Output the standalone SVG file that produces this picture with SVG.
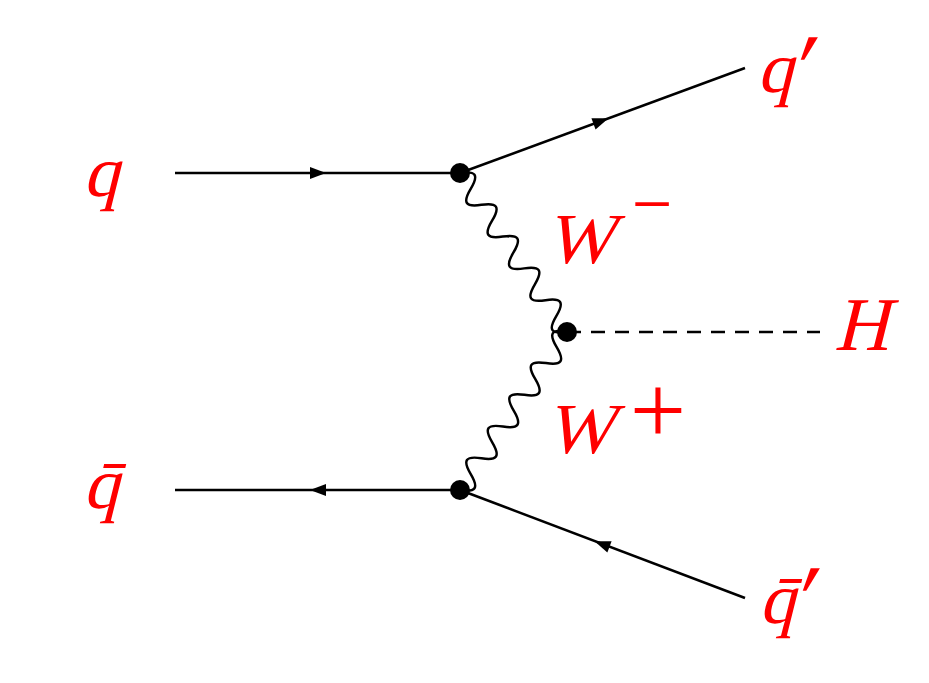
<svg xmlns="http://www.w3.org/2000/svg" width="929" height="683" viewBox="0 0 929 683">
<style>
.ln{stroke:#000;stroke-width:2.5;fill:none}
.wv{stroke:#000;stroke-width:2.5;fill:none}
.ar{fill:#000}
.vx{fill:#000}
.lb{font-family:"Liberation Serif","DejaVu Serif",serif;font-style:normal;font-size:72px;fill:#ff0000}
</style>
<rect width="929" height="683" fill="#fff"/>
<defs>
<path id="wave" d="M0,0 c6.9,-14.7 12.26,-14.7 19.16,0 c6.9,14.7 12.26,14.7 19.16,0 c6.9,-14.7 12.26,-14.7 19.16,0 c6.9,14.7 12.26,14.7 19.16,0 c6.9,-14.7 12.26,-14.7 19.16,0 c6.9,14.7 12.26,14.7 19.16,0 c6.9,-14.7 12.26,-14.7 19.16,0 c6.9,14.7 12.26,14.7 19.16,0 c6.9,-14.7 12.26,-14.7 19.16,0 c6.9,14.7 12.26,14.7 19.16,0"/>
</defs>
<g id="connectors">
<line class="ln" x1="175" y1="173" x2="460" y2="173"/>
<polygon class="ar" points="326,173 310,167 310,179"/>
<line class="ln" x1="175" y1="490" x2="460" y2="490"/>
<polygon class="ar" points="310,490 326,484 326,496"/>
<line class="ln" x1="460" y1="173" x2="745" y2="68"/>
<polygon class="ar" points="8,0 -8,-6 -8,6" transform="translate(601,121) rotate(-20.2)"/>
<line class="ln" x1="460" y1="490" x2="745" y2="598"/>
<polygon class="ar" points="-8,0 8,-6 8,6" transform="translate(602,544) rotate(20.75)"/>
<line class="ln" x1="567" y1="332" x2="820" y2="332" stroke-dasharray="14 10"/>
<use href="#wave" class="wv" transform="translate(460,173) rotate(56.06)"/>
<use href="#wave" class="wv" transform="translate(460,490) rotate(-55.9) scale(1,-1)"/>
</g>
<g id="v1"><circle class="vx" cx="460" cy="173" r="10"/></g>
<g id="v2"><circle class="vx" cx="460" cy="490" r="10"/></g>
<g id="v3"><circle class="vx" cx="567" cy="332" r="10"/></g>
<g id="q"><text class="lb" transform="translate(83,196) skewX(-14)">q</text></g>
<g id="qbar"><text class="lb" transform="translate(83,508) skewX(-14)">q̄</text></g>
<g id="qprime"><text class="lb" transform="translate(757,92) skewX(-14)">q<tspan style="font-size:96px" dx="-5" dy="8">′</tspan></text></g>
<g id="qbarprime"><text class="lb" transform="translate(759,623) skewX(-14)">q̄<tspan style="font-size:96px" dx="-5" dy="8">′</tspan></text></g>
<g id="Wminus"><text class="lb" transform="translate(546,263) skewX(-14)">W</text><text class="lb" x="652" y="228" text-anchor="middle">−</text></g>
<g id="Wplus"><text class="lb" transform="translate(546,453) skewX(-14)">W</text><text class="lb" x="658" y="444" text-anchor="middle" style="font-size:100px">+</text></g>
<g id="H"><text class="lb" transform="translate(834,350) skewX(-14)" style="font-size:76px">H</text></g>
</svg>
